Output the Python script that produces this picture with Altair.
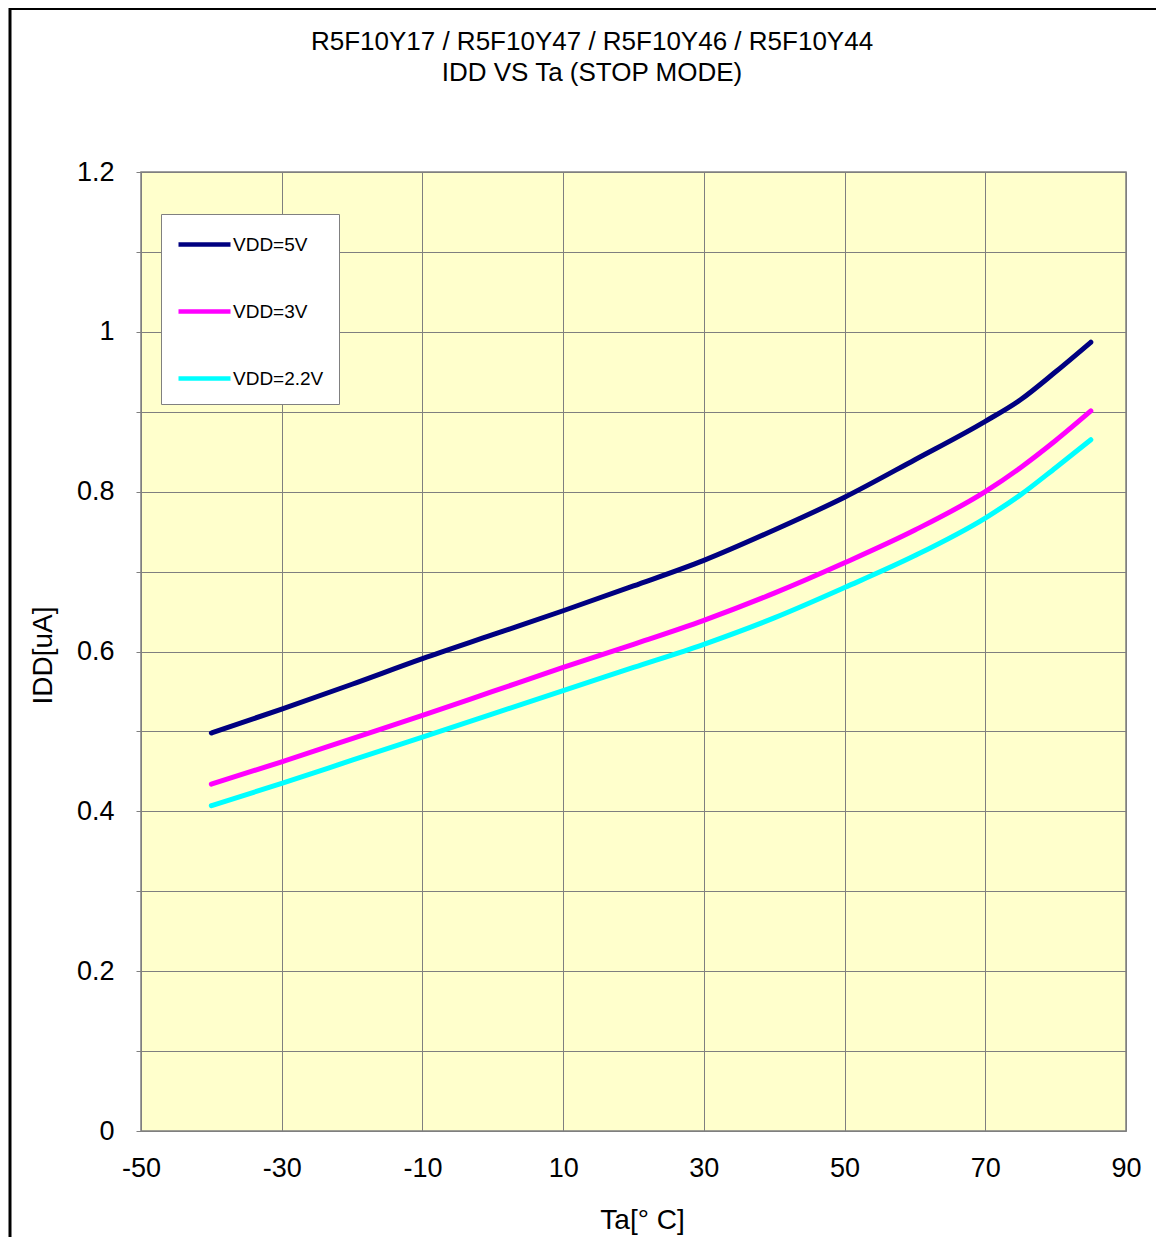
import altair as alt
import pandas as pd

# ---- data ----
ta = [-40, -30, -20, -10, 0, 10, 20, 30, 40, 50, 60, 70, 75, 80, 85]
idd_5v = [0.498, 0.528, 0.559, 0.591, 0.621, 0.651, 0.682, 0.714, 0.752, 0.793, 0.840, 0.888, 0.915, 0.950, 0.987]
idd_3v = [0.434, 0.462, 0.491, 0.520, 0.550, 0.580, 0.609, 0.639, 0.673, 0.711, 0.752, 0.800, 0.830, 0.864, 0.901]
idd_22v = [0.407, 0.435, 0.464, 0.493, 0.522, 0.551, 0.580, 0.609, 0.642, 0.680, 0.720, 0.767, 0.796, 0.830, 0.865]
series_names = ["VDD=5V", "VDD=3V", "VDD=2.2V"]
series_colors = ["#000080", "#FF00FF", "#00FFFF"]
x_ticks = [-50, -30, -10, 10, 30, 50, 70, 90]
y_ticks = [0, 0.1, 0.2, 0.3, 0.4, 0.5, 0.6, 0.7, 0.8, 0.9, 1.0, 1.1, 1.2]
title_lines = ["R5F10Y17 / R5F10Y47 / R5F10Y46 / R5F10Y44", "IDD VS Ta (STOP MODE)"]
x_title = "Ta[°   C]"
y_title = "IDD[uA]"

rows = []
for name, vals in zip(series_names, [idd_5v, idd_3v, idd_22v]):
    for t, v in zip(ta, vals):
        rows.append({"Ta": t, "IDD": v, "series": name})
df = pd.DataFrame(rows)

FONT = "Liberation Sans"
MINUS = "\u2212"

lines = alt.Chart(df).mark_line(strokeWidth=5, strokeCap="round", interpolate="monotone").encode(
    x=alt.X("Ta:Q", scale=alt.Scale(domain=[-50, 90], nice=False, zero=False),
            axis=alt.Axis(values=x_ticks, format="d", title=x_title, grid=True,
                          labelExpr=f"replace(datum.label, '{MINUS}', '-')",
                          labelFlush=False,
                          tickSize=0, labelPadding=24, labelFontSize=27,
                          titleFontSize=28, titleFontWeight="normal",
                          titleX=501, titleY=89, titleBaseline="middle")),
    y=alt.Y("IDD:Q", scale=alt.Scale(domain=[0, 1.2], nice=False),
            axis=alt.Axis(values=y_ticks, format=".1~f",
                          labelExpr="round(datum.value*10) % 2 == 0 ? datum.label : ''",
                          labelFlush=False,
                          title=y_title, grid=True, tickSize=5, labelPadding=22,
                          labelFontSize=27, titleFontSize=28, titleFontWeight="normal",
                          titleX=-98, titleY=483, titleAlign="center", titleBaseline="middle")),
    color=alt.Color("series:N",
                    scale=alt.Scale(domain=series_names, range=series_colors),
                    legend=alt.Legend(orient="none", legendX=20, legendY=42, title=None,
                                      fillColor="white", strokeColor="#808080", padding=15,
                                      symbolType="M-1,0H3", symbolSize=676, symbolStrokeWidth=4.5,
                                      labelFontSize=19, labelOffset=26, rowPadding=41,
                                      labelColor="black", labelFont=FONT)),
    order=alt.Order("Ta:Q"),
)

one = pd.DataFrame({"k": [0]})
title1 = alt.Chart(one).mark_text(fontSize=26, font=FONT, color="black", align="center",
                                  baseline="middle", text=title_lines[0]).encode(
    x=alt.value(451), y=alt.value(-130))
title2 = alt.Chart(one).mark_text(fontSize=26, font=FONT, color="black", align="center",
                                  baseline="middle", text=title_lines[1]).encode(
    x=alt.value(451), y=alt.value(-99))

left_frame = alt.Chart(one).mark_rule(color="black", strokeWidth=3).encode(
    x=alt.value(-131), y=alt.value(-170), y2=alt.value(1100))
top_frame = alt.Chart(one).mark_rule(color="black", strokeWidth=4).encode(
    x=alt.value(-132), x2=alt.value(1040), y=alt.value(-164))

chart = alt.layer(lines, title1, title2, left_frame, top_frame).properties(
    width=985, height=959,
    padding={"left": 133, "top": 164, "right": 30, "bottom": 106},
    autosize=alt.AutoSizeParams(type="none"),
    background="white",
).configure_view(
    fill="#FFFFCC", stroke="#808080", strokeWidth=1.5
).configure_axis(
    gridColor="#7f7f7f", gridWidth=1, gridOpacity=1, domain=False,
    tickColor="#7f7f7f", labelColor="black", titleColor="black",
    labelFont=FONT, titleFont=FONT
)

chart.save("out.html", embed_options={"renderer": "svg", "actions": False})
